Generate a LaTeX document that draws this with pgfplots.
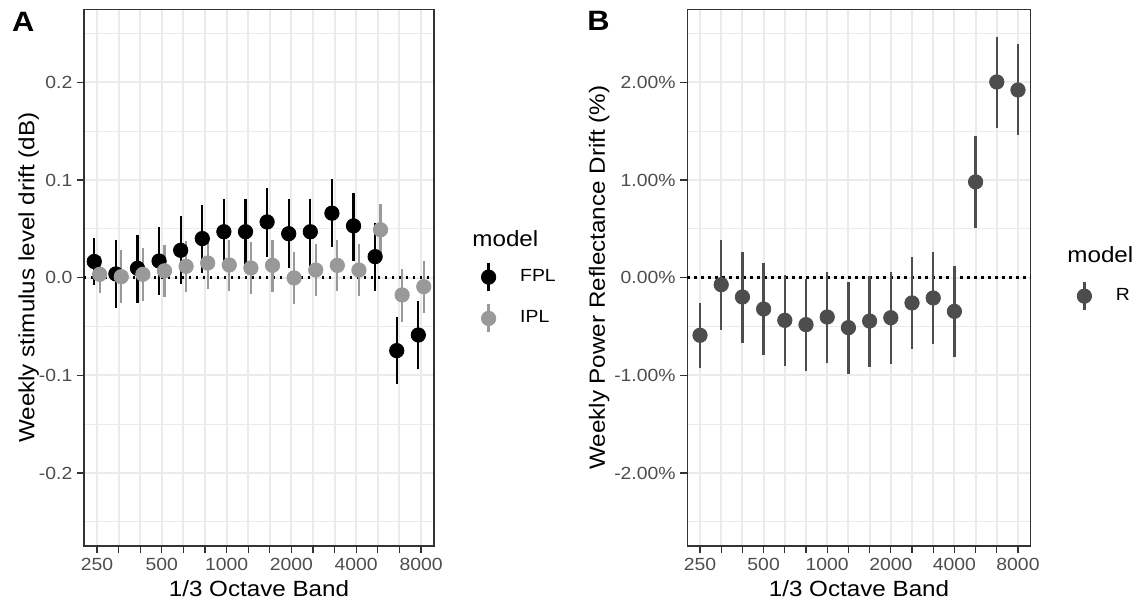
\documentclass[border=0pt]{standalone}
\usepackage{fontspec}
\setmainfont{Liberation Sans}[FakeStretch=1.1]
\usepackage{pgfplots}
\pgfplotsset{compat=1.18}
\usepackage{pgfplotstable}

\definecolor{grey20}{HTML}{333333}
\definecolor{grey30}{HTML}{4D4D4D}
\definecolor{grey60}{HTML}{999999}
\definecolor{grey92}{HTML}{EBEBEB}

\pgfplotstableread{
x y ep em
0.875 0.0165 0.0245 0.0245
1.875 0.0038 0.0352 0.0348
2.875 0.0096 0.0344 0.0356
3.875 0.0170 0.0350 0.0350
4.875 0.0280 0.0350 0.0350
5.875 0.0400 0.0340 0.0356
6.875 0.0470 0.0340 0.0340
7.875 0.0470 0.0340 0.0340
8.875 0.0570 0.0350 0.0360
9.875 0.0450 0.0350 0.0350
10.875 0.0470 0.0340 0.0350
11.875 0.0660 0.0350 0.0350
12.875 0.0530 0.0340 0.0360
13.875 0.0215 0.0345 0.0352
14.875 -0.0747 0.0347 0.0343
15.875 -0.0587 0.0347 0.0348
}\fpl

\pgfplotstableread{
x y ep em
1.125 0.0034 0.0190 0.0190
2.125 0.0010 0.0270 0.0270
3.125 0.0034 0.0266 0.0274
4.125 0.0070 0.0260 0.0270
5.125 0.0116 0.0264 0.0266
6.125 0.0150 0.0270 0.0270
7.125 0.0130 0.0260 0.0270
8.125 0.0099 0.0266 0.0269
9.125 0.0126 0.0264 0.0276
10.125 -0.0003 0.0269 0.0267
11.125 0.0078 0.0262 0.0268
12.125 0.0126 0.0264 0.0266
13.125 0.0078 0.0262 0.0268
14.125 0.0490 0.0260 0.0270
15.125 -0.0177 0.0266 0.0273
16.125 -0.0092 0.0262 0.0273
}\ipl

\pgfplotstableread{
x y ep em
1 -0.590 0.327 0.335
2 -0.072 0.462 0.468
3 -0.198 0.461 0.468
4 -0.321 0.468 0.467
5 -0.437 0.464 0.467
6 -0.481 0.464 0.471
7 -0.403 0.464 0.471
8 -0.512 0.468 0.471
9 -0.444 0.464 0.467
10 -0.410 0.465 0.470
11 -0.259 0.467 0.468
12 -0.208 0.467 0.468
13 -0.345 0.464 0.467
14 0.980 0.466 0.467
15 2.003 0.462 0.469
16 1.921 0.469 0.465
}\rtab

\pgfplotsset{
  panel/.style={
    scale only axis,
    height=268.35pt,
    xmin=0.4, xmax=16.6,
    xtick={1,...,16},
    xticklabels={250,,,500,,,1000,,,2000,,,4000,,,8000},
    tick align=outside,
    xtick pos=lower, ytick pos=left,
    major tick length=3.65pt, minor tick length=0pt,
    major tick style={grey20, line width=0.6pt},
    axis line style={grey20, line width=0.55pt},
    xmajorgrids, ymajorgrids, yminorgrids,
    major grid style={grey92, line width=1.0pt},
    minor grid style={grey92, line width=0.55pt},
    /pgf/number format/assume math mode=true,
    tick label style={font=\fontsize{8.8}{10}\selectfont, text=grey30},
    xticklabel style={anchor=north, inner sep=0pt, yshift=-2.5pt},
    yticklabel style={anchor=east, inner sep=0pt, xshift=-2pt},
    label style={font=\fontsize{11}{13}\selectfont, text=black, inner sep=0pt},
    xlabel style={at={(axis description cs:0.5,-0.0932)}, anchor=base},
    legend cell align=left,
    legend style={draw=none, fill=none, inner sep=0pt, outer sep=0pt,
      row sep=5.5pt, column sep=12pt,
      font=\fontsize{8.8}{10}\selectfont,
      nodes={inner sep=0pt, outer sep=0pt}},
    pts/.style={only marks, mark=*, mark size=3.6pt, forget plot},
    zeroline/.style={black, line width=1.2pt, dash pattern=on 1.2pt off 2.3pt, forget plot},
    keyimg/.style={legend image code/.code={
      \draw[line width=1.15pt] (3.6pt,-7pt) -- (3.6pt,7pt);
      \fill (3.6pt,0pt) circle (3.6pt);}},
  },
  errbar/.style={only marks, mark=none, forget plot,
      error bars/.cd, y dir=both, y explicit, error mark=none,
      error bar style={line width=1.15pt, #1}, /pgfplots/.cd},
}

\begin{document}
\begin{tikzpicture}
\path[use as bounding box] (0,0) rectangle (569.5pt,-302.5pt);

\begin{axis}[panel,
  at={(42pt,-4.65pt)}, anchor=north west,
  width=175pt,
  ymin=-0.2747, ymax=0.2747,
  ytick={-0.2,-0.1,0,0.1,0.2},
  yticklabels={-0.2,-0.1,0.0,0.1,0.2},
  minor ytick={-0.25,-0.15,-0.05,0.05,0.15,0.25},
  xlabel={1/3 Octave Band},
  ylabel={Weekly stimulus level drift (dB)},
  ylabel style={at={(axis description cs:-0.142,0.5)}, anchor=base},
  legend style={at={(axis description cs:1.1343,0.5292)}, anchor=north west},
]
\addplot[zeroline] coordinates {(0.4,0) (16.6,0)};
\addplot[black, errbar=black] table[x=x,y=y,y error plus=ep,y error minus=em]{\fpl};
\addplot[grey60, errbar=grey60] table[x=x,y=y,y error plus=ep,y error minus=em]{\ipl};
\addplot[pts, black, mark options={draw=black, fill=black}] table[x=x,y=y]{\fpl};
\addplot[pts, grey60, mark options={draw=grey60, fill=grey60}] table[x=x,y=y]{\ipl};
\addlegendimage{black, keyimg}
\addlegendentry{FPL}
\addlegendimage{grey60, keyimg}
\addlegendentry{IPL}
\end{axis}

\begin{axis}[panel,
  at={(343.65pt,-4.65pt)}, anchor=north west,
  width=171.7pt,
  ymin=-2.747, ymax=2.747,
  ytick={-2,-1,0,1,2},
  yticklabels={-2.00\%,-1.00\%,0.00\%,1.00\%,2.00\%},
  minor ytick={-2.5,-1.5,-0.5,0.5,1.5,2.5},
  xlabel={1/3 Octave Band},
  ylabel={Weekly Power Reflectance Drift (\%)},
  ylabel style={at={(axis description cs:-0.2397,0.5)}, anchor=base},
  legend style={at={(axis description cs:1.1342,0.4938)}, anchor=north west},
]
\addplot[zeroline] coordinates {(0.4,0) (16.6,0)};
\addplot[grey30, errbar=grey30] table[x=x,y=y,y error plus=ep,y error minus=em]{\rtab};
\addplot[pts, grey30, mark options={draw=grey30, fill=grey30}] table[x=x,y=y]{\rtab};
\addlegendimage{grey30, keyimg}
\addlegendentry{R}
\end{axis}

\node[anchor=west, inner sep=0pt, font=\fontsize{11}{13}\selectfont] at (236pt,-119.2pt) {model};
\node[anchor=west, inner sep=0pt, font=\fontsize{11}{13}\selectfont] at (533.5pt,-127.5pt) {model};
\node[inner sep=0pt, font=\bfseries\fontsize{14}{16}\selectfont] at (11.65pt,-10.8pt) {A};
\node[inner sep=0pt, font=\bfseries\fontsize{14}{16}\selectfont] at (299.2pt,-10.3pt) {B};
\end{tikzpicture}
\end{document}
